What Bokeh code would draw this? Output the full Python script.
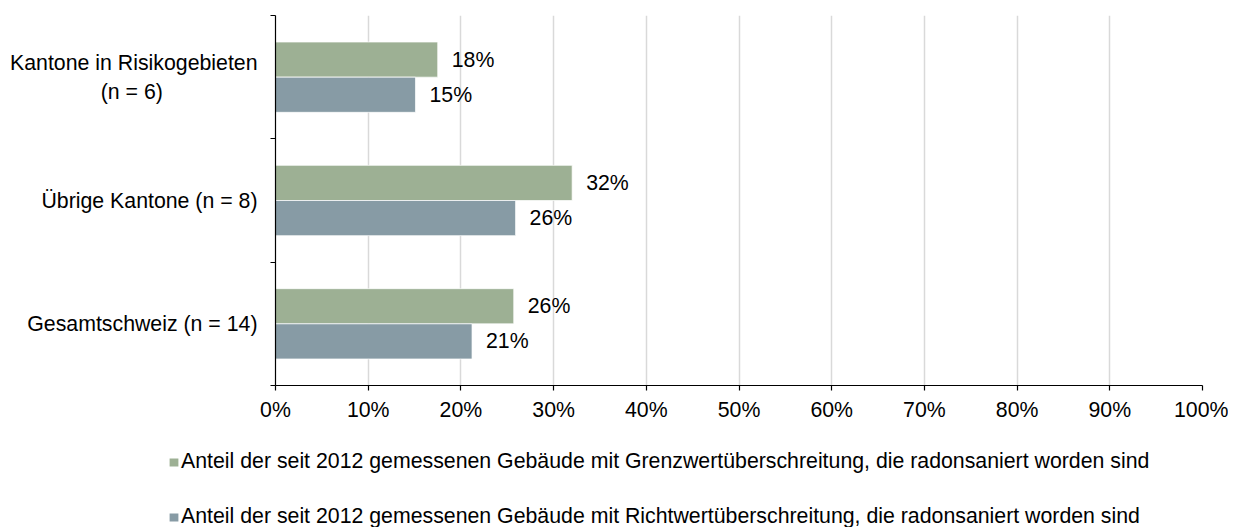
from bokeh.plotting import figure
from bokeh.layouts import column
from bokeh.models import (ColumnDataSource, FixedTicker, Legend, LegendItem,
                          PrintfTickFormatter, Range1d)
from bokeh.embed import file_html
from bokeh.resources import INLINE
from bokeh.core.properties import value

# ---- data ----
categories = ["Gesamtschweiz (n = 14)",
              "Übrige Kantone (n = 8)",
              "Kantone in Risikogebieten\n" + "\u00a0" * 15 + "(n = 6)" + "\u00a0" * 16]
grenzwert = [25.7, 32.0, 17.5]
richtwert = [21.2, 25.9, 15.1]
series_names = [
    "Anteil der seit 2012 gemessenen Gebäude mit Grenzwertüberschreitung, die radonsaniert worden sind",
    "Anteil der seit 2012 gemessenen Gebäude mit Richtwertüberschreitung, die radonsaniert worden sind",
]
x_ticks = [0, 10, 20, 30, 40, 50, 60, 70, 80, 90, 100]

# ---- style ----
FONT = "Liberation Sans"
FS = "21.3px"
GREEN = "#9DB094"
BLUE = "#879BA5"
bar_h = 0.285
W = 1228

pos = [i + 0.5 for i in range(len(categories))]
bounds = [i for i in range(len(categories) + 1)]

src_g = ColumnDataSource(dict(y=[p_ + bar_h / 2 for p_ in pos], x=grenzwert,
                              label=[f"{round(v)}%" for v in grenzwert]))
src_b = ColumnDataSource(dict(y=[p_ - bar_h / 2 for p_ in pos], x=richtwert,
                              label=[f"{round(v)}%" for v in richtwert]))

p = figure(width=W, height=430,
           x_range=Range1d(0, 100), y_range=Range1d(0, len(categories)),
           output_backend="svg", toolbar_location=None,
           min_border_left=275, min_border_right=26,
           min_border_top=15, min_border_bottom=45)
p.outline_line_color = None
p.background_fill_color = "white"

# grid
p.ygrid.grid_line_color = None
p.xgrid.ticker = FixedTicker(ticks=x_ticks)
p.xgrid.grid_line_color = "#D9D9D9"
p.xgrid.grid_line_width = 1.5

# x axis
xa = p.xaxis[0]
xa.ticker = FixedTicker(ticks=x_ticks)
xa.formatter = PrintfTickFormatter(format="%d%%")
xa.axis_line_color = "black"
xa.axis_line_width = 1.2
xa.major_tick_line_color = "black"
xa.major_tick_line_width = 1.2
xa.major_tick_out = 5
xa.major_tick_in = 0
xa.minor_tick_line_color = None
xa.major_label_text_font = FONT
xa.major_label_text_font_size = FS
xa.major_label_text_color = "black"
xa.major_label_standoff = 7

# y axis
ya = p.yaxis[0]
ya.ticker = FixedTicker(ticks=pos, minor_ticks=bounds)
ya.major_label_overrides = {pv: c for pv, c in zip(pos, categories)}
ya.axis_line_color = "black"
ya.axis_line_width = 1.2
ya.major_tick_out = 0
ya.major_tick_in = 0
ya.major_tick_line_color = None
ya.minor_tick_out = 5
ya.minor_tick_in = 0
ya.minor_tick_line_color = "black"
ya.minor_tick_line_width = 1.2
ya.major_label_text_font = FONT
ya.major_label_text_font_size = FS
ya.major_label_text_color = "black"
ya.major_label_standoff = 13

# bars
rg = p.hbar(y="y", left=0, right="x", height=bar_h, source=src_g,
            fill_color=GREEN, line_color="white", line_width=0.7)
rb = p.hbar(y="y", left=0, right="x", height=bar_h, source=src_b,
            fill_color=BLUE, line_color="white", line_width=0.7)

for s in (src_g, src_b):
    p.text(x="x", y="y", text="label", source=s, x_offset=14,
           text_align="left", text_baseline="middle",
           text_font=value(FONT), text_font_size=FS, text_color="black")

# ---- legend in its own strip below ----
lg = figure(width=W, height=97, x_range=Range1d(0, 1), y_range=Range1d(0, 1),
            output_backend="svg", toolbar_location=None, min_border=0)
lg.axis.visible = False
lg.grid.visible = False
lg.outline_line_color = None
# off-screen proxy glyphs, only used for the legend swatches
lr_g = lg.hbar(y=[-5], left=0, right=[0.5], height=0.1,
               fill_color=GREEN, line_color=None)
lr_b = lg.hbar(y=[-5], left=0, right=[0.5], height=0.1,
               fill_color=BLUE, line_color=None)
legend = Legend(items=[LegendItem(label=series_names[0], renderers=[lr_g]),
                       LegendItem(label=series_names[1], renderers=[lr_b])],
                location=(168, -2), orientation="vertical",
                glyph_width=11, glyph_height=10, label_standoff=2,
                spacing=30, label_height=24, padding=0, margin=0,
                border_line_color=None, background_fill_alpha=0,
                label_text_font=FONT, label_text_font_size=FS,
                label_text_color="black")
lg.add_layout(legend)

layout = column(p, column(lg, spacing=0), spacing=0)
open("out.html", "w").write(file_html(layout, INLINE))
